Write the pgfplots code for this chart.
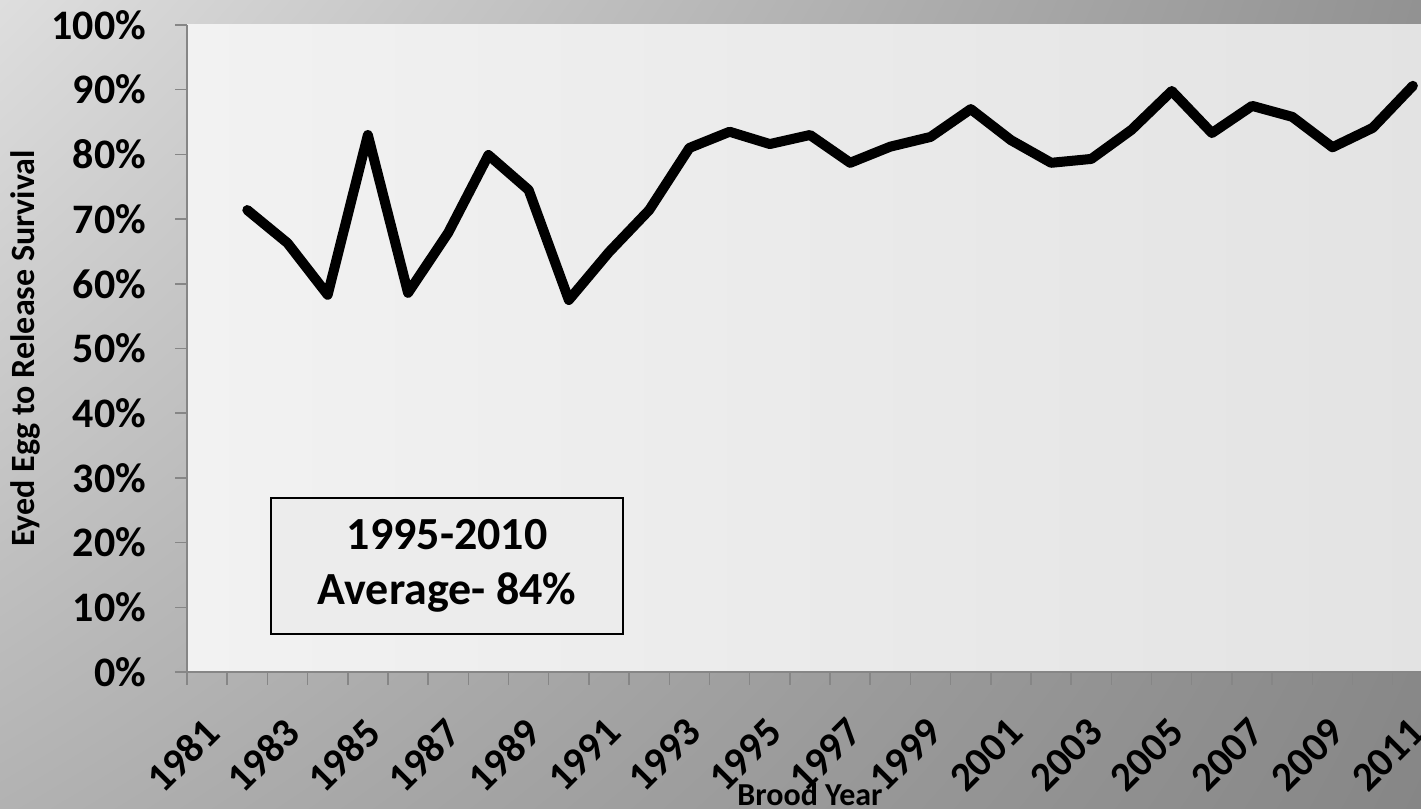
\documentclass[border=0pt]{standalone}
\usepackage{fontspec}
\setmainfont{Carlito}
\usepackage{pgfplots}
\pgfplotsset{compat=1.18}
\usetikzlibrary{shadings}
\definecolor{bgUL}{HTML}{DEDEDE}
\definecolor{bgUR}{HTML}{929292}
\definecolor{bgLL}{HTML}{B2B2B2}
\definecolor{bgLR}{HTML}{868686}
\definecolor{plotL}{HTML}{F2F2F2}
\definecolor{plotR}{HTML}{E3E3E3}
\definecolor{axisgray}{HTML}{868686}
\begin{document}
\begin{tikzpicture}[x=1pt,y=1pt]
\useasboundingbox (0,0) rectangle (710.5,404.5);
\shade[upper left=bgUL, upper right=bgUR, lower left=bgLL, lower right=bgLR] (0,0) rectangle (710.5,404.5);
\begin{axis}[
  at={(93.5pt,68.5pt)}, anchor=south west, scale only axis,
  width=623pt, height=323.5pt,
  xmin=1980.5, xmax=2011.5, ymin=0, ymax=100,
  axis x line*=bottom, axis y line*=left,
  axis line style={draw=axisgray, line width=0.75pt},
  axis background/.style={shade, left color=plotL, right color=plotR},
  tick align=outside,
  tick style={draw=axisgray, line width=0.75pt},
  major tick length=6pt, minor tick length=6.5pt,
  ytick={0,10,...,100},
  yticklabel={\pgfmathprintnumber{\tick}\%},
  yticklabel style={font=\bfseries\fontsize{21}{25}\selectfont, xshift=-11pt},
  xtick={1981,1983,...,2011},
  major x tick style={draw=none},
  minor xtick={1980.5,1981.5,...,2011.5},
  xticklabel style={xshift=-2.5pt, yshift=-11pt, rotate=45, anchor=north east, font=\bfseries\fontsize{20.5}{24}\selectfont},
  /pgf/number format/assume math mode=true,
  /pgf/number format/1000 sep={},
  xlabel={Brood Year},
  ylabel={Eyed Egg to Release Survival},
  every axis x label/.style={at={(axis description cs:0.5,-0.2056)}, anchor=base, font=\bfseries\fontsize{16}{19}\selectfont},
  every axis y label/.style={at={(axis description cs:-0.122,0.5)}, anchor=base, rotate=90, font=\bfseries\fontsize{17}{20}\selectfont},
  clip=false,
]
\addplot[black, line width=5pt, line join=round, line cap=round] coordinates {
(1982,71.4) (1983,66.3) (1984,58.3) (1985,83.0) (1986,58.6) (1987,67.9)
(1988,79.9) (1989,74.5) (1990,57.5) (1991,64.9) (1992,71.4) (1993,81.0)
(1994,83.5) (1995,81.6) (1996,83.0) (1997,78.7) (1998,81.2) (1999,82.7)
(2000,87.0) (2001,82.2) (2002,78.7) (2003,79.3) (2004,83.8) (2005,89.8)
(2006,83.3) (2007,87.5) (2008,85.8) (2009,81.1) (2010,84.1) (2011,90.6)
};
\node[draw=black, line width=0.65pt, fill=plotL!60!plotR, minimum width=176pt, minimum height=68pt,
  align=center, font=\bfseries\fontsize{23}{27.5}\selectfont, inner sep=0pt]
  at (axis cs:1986.97,16.4) {1995-2010\\Average- 84\%};
\end{axis}
\end{tikzpicture}
\end{document}
